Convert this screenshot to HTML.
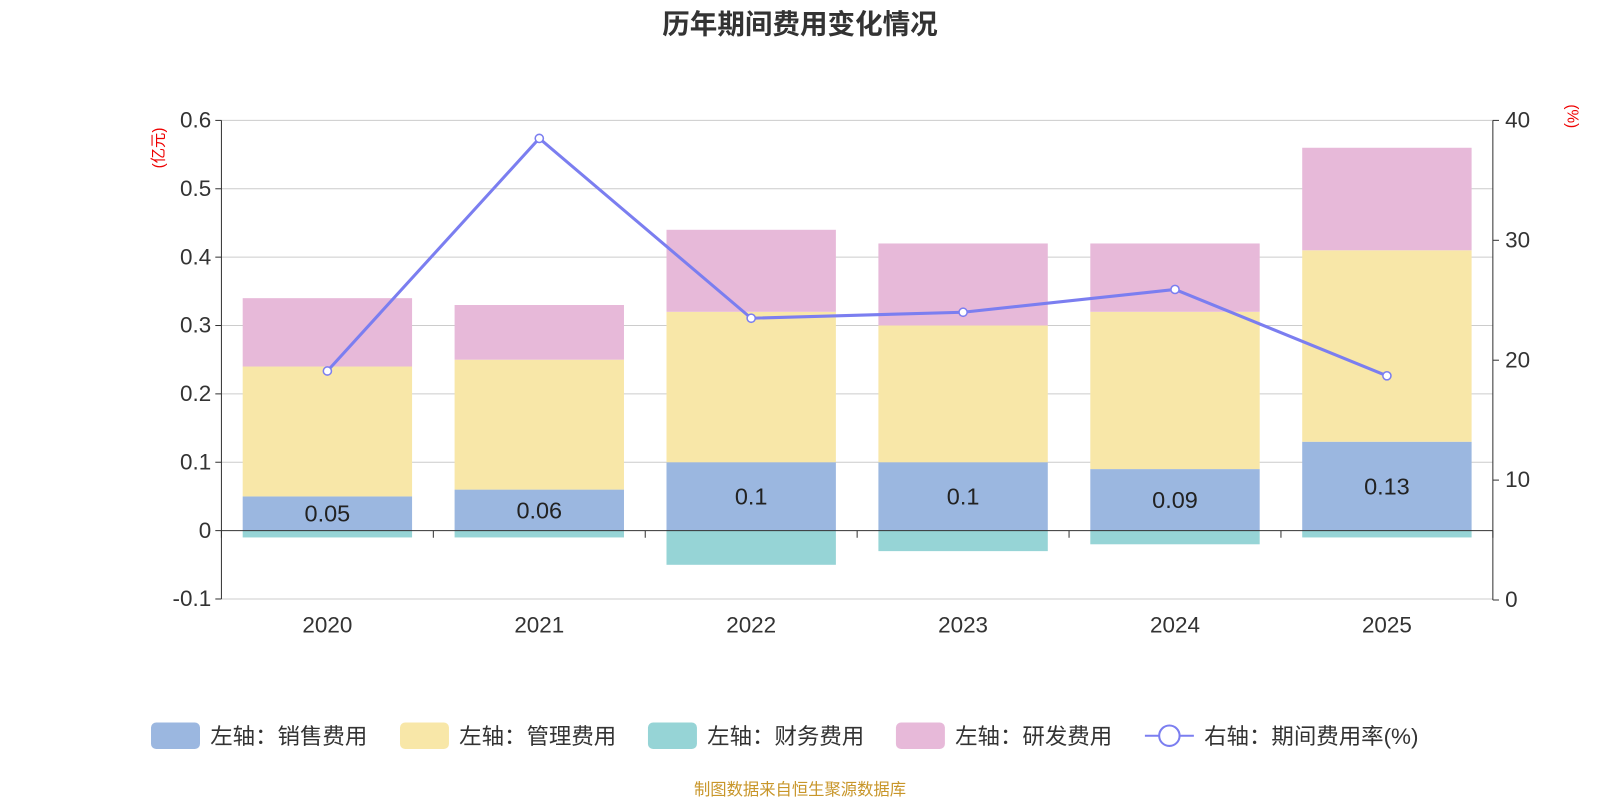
<!DOCTYPE html>
<html><head><meta charset="utf-8"><style>
body{margin:0;background:#fff;width:1600px;height:800px;overflow:hidden;font-family:"Liberation Sans","Noto Sans CJK SC",sans-serif;}
</style></head><body>
<svg id="chart" width="1600" height="800" viewBox="0 0 1568 784" xmlns="http://www.w3.org/2000/svg" font-family="Liberation Sans, Noto Sans CJK SC, sans-serif">
<text x="784" y="33" text-anchor="middle" font-size="27" font-weight="bold" fill="#333">历年期间费用变化情况</text>
<text transform="translate(160,145) rotate(-90)" text-anchor="middle" font-size="15" fill="#e00">(亿元)</text>
<text transform="translate(1536,114) rotate(90)" text-anchor="middle" font-size="15" fill="#e00">(%)</text>
<g id="grid"></g><g id="bars"></g><g id="axes"></g><g id="line"></g>
<g id="legend" font-size="22" fill="#333"></g>
<text x="784" y="779" text-anchor="middle" font-size="16" fill="#c8962a">制图数据来自恒生聚源数据库</text>
</svg>
<script>
const categories=["2020","2021","2022","2023","2024","2025"];
const sales=[0.05,0.06,0.10,0.10,0.09,0.13];
const mgmt=[0.19,0.19,0.22,0.20,0.23,0.28];
const finance=[-0.01,-0.01,-0.05,-0.03,-0.02,-0.01];
const rnd=[0.10,0.08,0.12,0.12,0.10,0.15];
const rate=[19.1,38.5,23.5,24.0,25.9,18.7];
const salesLabels=["0.05","0.06","0.1","0.1","0.09","0.13"];
const leftTicks=[-0.1,0,0.1,0.2,0.3,0.4,0.5,0.6];
const rightTicks=[0,10,20,30,40];
const NS="http://www.w3.org/2000/svg";
const X0=217,X1=1463,band=(X1-X0)/categories.length,bw=166;
const yL=v=>520-v*670;
const yR=v=>588-v*11.75;
const xC=i=>X0+band*(i+0.5);
function mk(tag,attrs,parent,txt){const e=document.createElementNS(NS,tag);for(const k in attrs)e.setAttribute(k,attrs[k]);if(txt!==undefined)e.textContent=txt;document.getElementById(parent).appendChild(e);return e;}
leftTicks.forEach(t=>{
  const y=yL(t);
  if(t!==0){const g=mk('line',{x1:X0,x2:X1,y1:y,y2:y,stroke:'#ccc','stroke-width':1},'grid');
  
  }
  mk('line',{x1:X0-6,x2:X0,y1:y,y2:y,stroke:'#333'},'axes');
  const l=mk('text',{x:X0-10,y:y+7,'text-anchor':'end','font-size':22,fill:'#333'},'axes',String(t));
  
  
});
rightTicks.forEach(t=>{
  const y=yR(t);
  mk('line',{x1:X1,x2:X1+6,y1:y,y2:y,stroke:'#333'},'axes');
  const l=mk('text',{x:X1+12,y:y+7,'font-size':22,fill:'#333'},'axes',String(t));
  
  
});
mk('line',{x1:X0,x2:X0,y1:yL(0.6),y2:yL(-0.1),stroke:'#333'},'axes');
mk('line',{x1:X1,x2:X1,y1:yR(40),y2:yR(0),stroke:'#333'},'axes');
mk('line',{x1:X0,x2:X1,y1:yL(0),y2:yL(0),stroke:'#333'},'axes');
for(let i=0;i<=categories.length;i++){const x=X0+band*i;mk('line',{x1:x,x2:x,y1:yL(0),y2:yL(0)+7,stroke:'#333'},'axes');}
categories.forEach((c,i)=>{
  const x=xC(i),l=bw/2;
  const bar=(v0,v1,col,name)=>{const r=mk('rect',{x:x-l,y:Math.min(yL(v0),yL(v1)),width:bw,height:Math.abs(yL(v0)-yL(v1)),fill:col},'bars');
    
    };
  bar(0,sales[i],'#9bb7e0','bar-sales-'+c);
  bar(sales[i],sales[i]+mgmt[i],'#f8e7a8','bar-admin-'+c);
  bar(finance[i],0,'#96d4d6','bar-finance-'+c);
  bar(sales[i]+mgmt[i],sales[i]+mgmt[i]+rnd[i],'#e7b9d9','bar-rnd-'+c);
  const t=mk('text',{x:x,y:yL(sales[i]/2)+8,'text-anchor':'middle','font-size':23,fill:'#222'},'bars',salesLabels[i]);
  
  
  const xl=mk('text',{x:x,y:620,'text-anchor':'middle','font-size':22,fill:'#333'},'axes',c);
  
  
});
const pts=rate.map((v,i)=>xC(i)+','+yR(v)).join(' ');
const pl=mk('polyline',{points:pts,fill:'none',stroke:'#7b7ef0','stroke-width':3},'line');


rate.forEach((v,i)=>{const c=mk('circle',{cx:xC(i),cy:yR(v),r:4,fill:'#fff',stroke:'#7b7ef0','stroke-width':1.5},'line');
  
  });
const leg=[['rect','#9bb7e0','左轴：销售费用',148],['rect','#f8e7a8','左轴：管理费用',392],['rect','#96d4d6','左轴：财务费用',635],['rect','#e7b9d9','左轴：研发费用',878],['line','#7b7ef0','右轴：期间费用率(%)',1122]];
leg.forEach(([k,col,txt,x])=>{
  const g=mk('g',{},'legend');
  
  
  const add=(tag,a,t)=>{const e=document.createElementNS(NS,tag);for(const q in a)e.setAttribute(q,a[q]);if(t)e.textContent=t;g.appendChild(e);};
  if(k==='rect')add('rect',{x:x,y:708,width:48,height:26,rx:5,fill:col});
  else{add('line',{x1:x,x2:x+48,y1:721,y2:721,stroke:col,'stroke-width':2});add('circle',{cx:x+24,cy:721,r:10,fill:'#fff',stroke:col,'stroke-width':2});}
  add('text',{x:x+58,y:729,'font-size':22,fill:'#333'},txt);
});
</script>
</body></html>
